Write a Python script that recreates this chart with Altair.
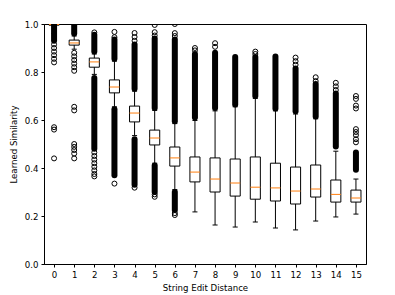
import altair as alt
import pandas as pd

# ---- data ----
cats = list(range(16))
q1 = [0.995, 0.912, 0.820, 0.713, 0.592, 0.496, 0.408, 0.342, 0.300, 0.283, 0.270, 0.2625, 0.250, 0.279, 0.258, 0.258]
med = [0.998, 0.921, 0.842, 0.7375, 0.629, 0.525, 0.442, 0.383, 0.354, 0.3375, 0.320, 0.317, 0.304, 0.3125, 0.290, 0.275]
q3 = [1.000, 0.933, 0.858, 0.767, 0.658, 0.558, 0.4875, 0.446, 0.442, 0.4375, 0.446, 0.420, 0.404, 0.4125, 0.350, 0.308]
wlo = [0.960, 0.895, 0.790, 0.655, 0.535, 0.420, 0.310, 0.217, 0.1625, 0.154, 0.175, 0.150, 0.142, 0.179, 0.196, 0.208]
whi = [1.000, 0.950, 0.875, 0.845, 0.720, 0.640, 0.585, 0.598, 0.638, 0.655, 0.690, 0.638, 0.625, 0.605, 0.470, 0.354]

# dense runs of outliers (drawn as solid columns)
band_cat = [0, 1, 2, 2, 3, 3, 4, 4, 5, 5, 6, 6, 7, 8, 9, 10, 11, 12, 13, 14, 15]
band_lo = [0.930, 0.960, 0.885, 0.480, 0.855, 0.370, 0.730, 0.330, 0.650, 0.300, 0.595, 0.225, 0.610, 0.650, 0.665, 0.700, 0.648, 0.636, 0.615, 0.490, 0.393]
band_hi = [1.000, 1.000, 0.955, 0.775, 0.935, 0.645, 0.915, 0.520, 0.940, 0.410, 0.935, 0.300, 0.875, 0.880, 0.862, 0.862, 0.865, 0.815, 0.750, 0.710, 0.465]

# individual outlier circles
pt_cat = ([0] * 9 + [1] * 13 + [2] * 9 + [3] * 3 + [4] * 4 + [5] * 5 + [6] * 5
          + [7] * 2 + [8] * 2 + [10] * 2 + [12] * 3 + [13] * 2 + [14] * 3 + [15] * 9)
pt_val = ([0.915, 0.900, 0.885, 0.870, 0.855, 0.840, 0.570, 0.560, 0.440]
          + [0.880, 0.865, 0.850, 0.835, 0.820, 0.805, 0.655, 0.640, 0.500, 0.488, 0.475, 0.460, 0.440]
          + [0.965, 0.465, 0.450, 0.435, 0.420, 0.405, 0.390, 0.375, 0.365]
          + [0.945, 0.967, 0.335]
          + [0.930, 0.946, 0.9625, 0.318]
          + [0.952, 0.966, 0.996, 0.290, 0.280]
          + [0.950, 0.962, 1.000, 0.212, 0.204]
          + [0.890, 0.900]
          + [0.905, 0.920]
          + [0.875, 0.885]
          + [0.830, 0.845, 0.860]
          + [0.762, 0.778]
          + [0.725, 0.740, 0.755]
          + [0.700, 0.688, 0.660, 0.648, 0.562, 0.550, 0.537, 0.520, 0.507])

box_df = pd.DataFrame({"cat": cats, "q1": q1, "med": med, "q3": q3, "wlo": wlo, "whi": whi})
band_df = pd.DataFrame({"cat": band_cat, "lo": band_lo, "hi": band_hi})
pt_df = pd.DataFrame({"cat": pt_cat, "val": pt_val})

FONT = "DejaVu Sans"
xscale = alt.Scale(domain=[-0.5, 15.5], nice=False, zero=False)
yscale = alt.Scale(domain=[0, 1], nice=False, zero=False)

xax = alt.Axis(values=cats, format="d", labelAngle=0, grid=False, tickSize=3,
               labelPadding=3, titlePadding=5, title="String Edit Distance",
               labelOverlap=False, labelFlush=False, labelBound=False)
yax = alt.Axis(values=[0, 0.2, 0.4, 0.6, 0.8, 1.0], format=".1f", grid=False, tickSize=3,
               labelPadding=3, titlePadding=6, title="Learned Similarity",
               labelOverlap=False, labelFlush=False)

def X(f):
    return alt.X(f, type="quantitative", scale=xscale, axis=xax)

def Y(f):
    return alt.Y(f, type="quantitative", scale=yscale, axis=yax)

base = alt.Chart(box_df).transform_calculate(
    xl="datum.cat - 0.25", xr="datum.cat + 0.25",
    cl="datum.cat - 0.125", cr="datum.cat + 0.125")

whisk = base.mark_rule(color="black", strokeWidth=1, clip=True).encode(
    x=X("cat"), y=Y("wlo"), y2="whi:Q")

caps = base.transform_fold(["wlo", "whi"], as_=["k", "v"]).mark_rule(
    color="black", strokeWidth=1, clip=True).encode(
    x=X("cl"), x2="cr:Q", y=Y("v"))

boxes = base.mark_rect(fill="white", stroke="black", strokeWidth=1, clip=True).encode(
    x=X("xl"), x2="xr:Q", y=Y("q1"), y2="q3:Q")

meds = base.mark_rule(color="#ff7f0e", strokeWidth=1, clip=True).encode(
    x=X("xl"), x2="xr:Q", y=Y("med"))

bands = alt.Chart(band_df).mark_rule(color="black", strokeWidth=6, strokeCap="round", clip=True).encode(
    x=X("cat"), y=Y("lo"), y2="hi:Q")

pts = alt.Chart(pt_df).mark_point(shape="circle", filled=False, size=25, stroke="black",
                                  strokeWidth=1, opacity=1, clip=True).encode(
    x=X("cat"), y=Y("val"))

chart = alt.layer(whisk, caps, boxes, meds, bands, pts).properties(
    width=322, height=240,
    padding={"left": 1, "top": 12, "right": 5, "bottom": 2}
).configure_view(stroke="black", strokeWidth=1).configure_axis(
    domainColor="black", tickColor="black", labelColor="black", titleColor="black",
    labelFont=FONT, titleFont=FONT, labelFontSize=8.6, titleFontSize=8.6,
    titleFontWeight="normal", domainWidth=1, tickWidth=1, labelOverlap=False)

chart.save("out.html", embed_options={"renderer": "svg", "actions": False})
